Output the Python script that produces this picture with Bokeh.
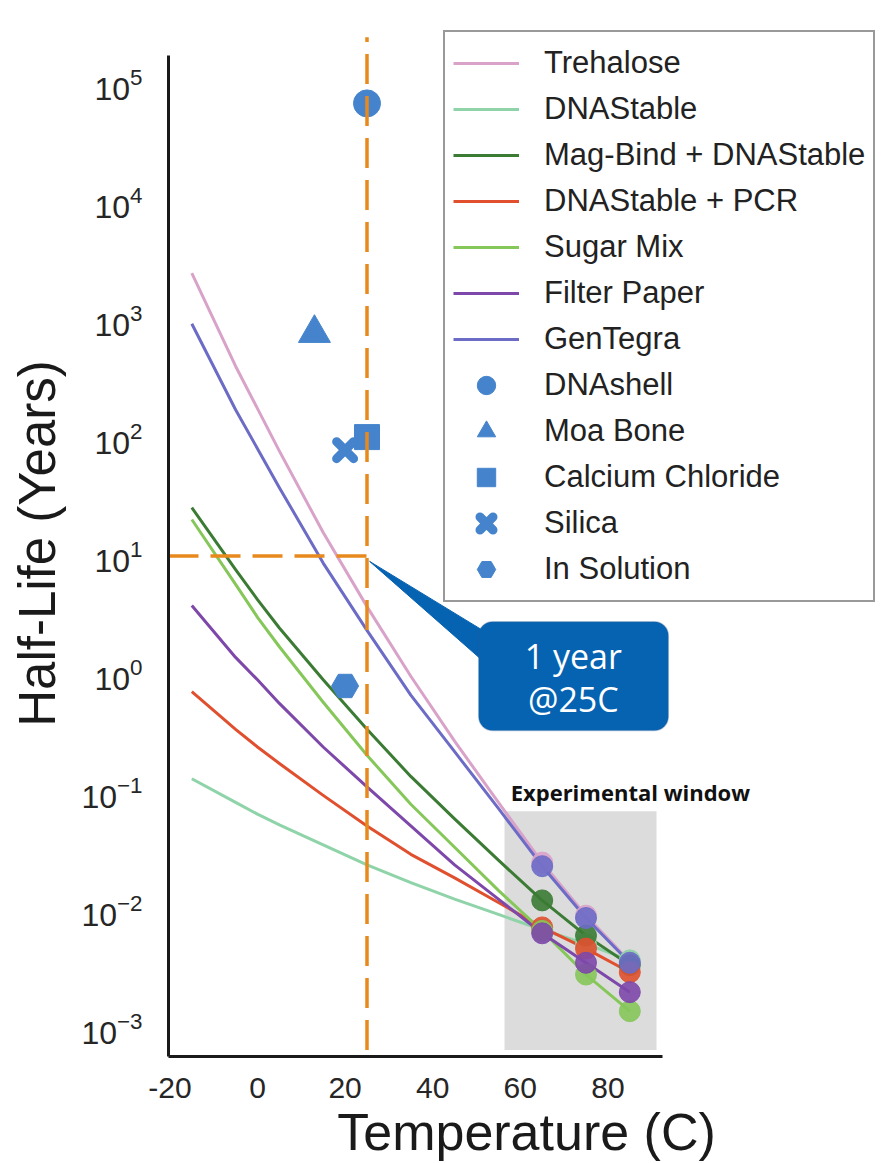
from bokeh.plotting import figure
from bokeh.models import Range1d, FixedTicker, Legend, LegendItem, BoxAnnotation, Label
from bokeh.embed import file_html
from bokeh.resources import INLINE

# ---------------- data ----------------
temps = [-15, -5, 0, 5, 15, 25, 35, 45, 55, 65, 75, 85]
exp_idx = [9, 10, 11]          # measured points at 65, 75, 85 C

trehalose     = [2512, 407, 178, 77.6, 15.8, 3.72, 0.955, 0.269, 0.0813, 0.0251, 0.00891, 0.00363]
dnastable     = [0.129, 0.0813, 0.0646, 0.0525, 0.0355, 0.0240, 0.0170, 0.0123, 0.00912, 0.00676, 0.00513, 0.00372]
magbind       = [25.7, 7.67, 4.27, 2.45, 0.891, 0.339, 0.135, 0.0589, 0.0263, 0.0120, 0.00603, 0.00339]
dnastable_pcr = [0.708, 0.339, 0.240, 0.174, 0.0933, 0.0513, 0.0295, 0.0186, 0.0115, 0.00708, 0.00468, 0.00295]
sugar_mix     = [20.4, 5.75, 3.02, 1.70, 0.575, 0.204, 0.0785, 0.0339, 0.0146, 0.00661, 0.00282, 0.00138]
filter_paper  = [3.80, 1.38, 0.891, 0.562, 0.240, 0.110, 0.0513, 0.0240, 0.0123, 0.00631, 0.00355, 0.00200]
gentegra      = [933, 174, 81.3, 38.0, 8.71, 2.34, 0.661, 0.219, 0.0724, 0.0234, 0.00851, 0.00355]

series_names = ["Trehalose", "DNAStable", "Mag-Bind + DNAStable", "DNAStable + PCR",
                "Sugar Mix", "Filter Paper", "GenTegra"]
series_values = [trehalose, dnastable, magbind, dnastable_pcr, sugar_mix, filter_paper, gentegra]

point_names = ["DNAshell", "Moa Bone", "Calcium Chloride", "Silica", "In Solution"]
point_temps = [25, 13, 25, 20, 20]
point_halflife = [69000, 776, 102, 79, 0.79]

x_ticks = [-20, 0, 20, 40, 60, 80]
x_tick_labels = ["-20", "0", "20", "40", "60", "80"]
y_ticks = [1e-3, 1e-2, 1e-1, 1e0, 1e1, 1e2, 1e3, 1e4, 1e5]

ref_temp = 25
ref_halflife = 10

# ---------------- styles ----------------
series_colors = ["#d9a3c9", "#8fd3a8", "#3b7b34", "#e0502f", "#86c75a", "#7d48aa", "#6c6cc6"]
point_color = "#4584cc"
point_markers = ["circle", "triangle", "square", "x", "hex"]
point_sizes = [27, 32, 25, 24, 27]
orange = "#e8891d"
FONT = "Liberation Sans"

p = figure(width=884, height=1163,
           x_range=Range1d(-20.32, 143.15),
           y_range=Range1d(5.69e-4, 2.864e5),
           y_axis_type="log",
           min_border_left=168, min_border_right=0,
           min_border_top=30, min_border_bottom=104,
           output_backend="svg", toolbar_location=None)
p.outline_line_color = None
p.xgrid.visible = False
p.ygrid.visible = False
p.background_fill_color = "white"
p.border_fill_color = "white"

# experimental window
p.add_layout(BoxAnnotation(left=56.4, right=91.1, bottom=6.46e-4, top=0.0684,
                           fill_color="#dcdcdc", fill_alpha=1.0, line_color=None,
                           level="underlay"))
p.add_layout(Label(x=57.8, y=0.1, text="Experimental window", text_align="left",
                   text_baseline="middle", text_font="Open Sans", text_font_style="bold",
                   text_font_size="22px", text_color="#111111"))

# series lines
items = []
for name, vals, col in zip(series_names, series_values, series_colors):
    r = p.line(temps, vals, line_color=col, line_width=3, line_join="round")
    items.append(LegendItem(label=name, renderers=[r]))
for name, vals, col in zip(series_names, series_values, series_colors):
    p.scatter([temps[i] for i in exp_idx], [vals[i] for i in exp_idx],
              marker="circle", size=21, fill_color=col, line_color=col, alpha=0.9)

# single points
for name, t, h, m, s in zip(point_names, point_temps, point_halflife, point_markers, point_sizes):
    if m == "x":
        r = p.scatter([t], [h], marker=m, size=s, line_color=point_color,
                      line_width=9, line_cap="round")
    else:
        r = p.scatter([t], [h], marker=m, size=s, fill_color=point_color,
                      line_color=point_color)
    items.append(LegendItem(label=name, renderers=[r]))

# reference dashed lines
p.line([ref_temp, ref_temp], [6.46e-4, 2.51e5], line_color=orange, line_width=3.5,
       line_dash="30 12")
p.line([-20.32, ref_temp], [ref_halflife, ref_halflife], line_color=orange,
       line_width=3.5, line_dash="30 12")

# callout
callout_blue = "#0663b2"
p.patch([25.6, 53.5, 53.5], [9.0, 2.10, 1.107], fill_color=callout_blue,
        line_color=callout_blue, line_width=1)
p.add_layout(BoxAnnotation(left=50.5, right=93.8, bottom=0.331, top=2.77,
                           fill_color=callout_blue, fill_alpha=1.0,
                           line_color="#2c5d95", line_width=1.5, border_radius=14))
p.add_layout(Label(x=72.1, y=1.43, text="1 year", text_align="center",
                   text_baseline="middle", text_color="white",
                   text_font="Open Sans", text_font_size="34px"))
p.add_layout(Label(x=72.1, y=0.618, text="@25C", text_align="center",
                   text_baseline="middle", text_color="white",
                   text_font="Open Sans", text_font_size="34px"))

# axes
for ax in (p.xaxis, p.yaxis):
    ax.axis_line_width = 3
    ax.axis_line_color = "#1a1a1a"
    ax.major_tick_line_color = None
    ax.minor_tick_line_color = None
    ax.major_label_text_font = FONT
    ax.major_label_text_color = "#262626"
    ax.axis_label_text_font = FONT
    ax.axis_label_text_font_style = "normal"
    ax.axis_label_text_color = "#1a1a1a"

p.xaxis.ticker = FixedTicker(ticks=x_ticks)
p.xaxis.major_label_overrides = dict(zip(x_ticks, x_tick_labels))
p.xaxis.bounds = (-20.32, 92.5)
p.xaxis.axis_label = "Temperature (C)"
p.xaxis.major_label_text_font_size = "30px"
p.xaxis.axis_label_text_font_size = "52px"
p.xaxis.major_label_standoff = 15
p.xaxis.axis_label_standoff = 2

p.yaxis.ticker = FixedTicker(ticks=y_ticks)
p.yaxis.bounds = (5.69e-4, 1.758e5)
p.yaxis.axis_label = "Half-Life (Years)"
p.yaxis.major_label_text_font_size = "32px"
p.yaxis.axis_label_text_font_size = "51px"
p.yaxis.major_label_standoff = 20
p.yaxis.axis_label_standoff = 12

legend = Legend(items=items, location=(275, 454), orientation="vertical")
legend.label_text_font = FONT
legend.label_text_font_size = "31px"
legend.label_text_color = "#222222"
legend.glyph_width = 66
legend.glyph_height = 46
legend.label_height = 46
legend.spacing = 0
legend.padding = 8
legend.margin = 0
legend.label_standoff = 25
legend.border_line_color = "#333333"
legend.border_line_width = 2
legend.background_fill_color = "white"
legend.background_fill_alpha = 1.0
p.add_layout(legend)

open("out.html", "w").write(file_html(p, INLINE))
